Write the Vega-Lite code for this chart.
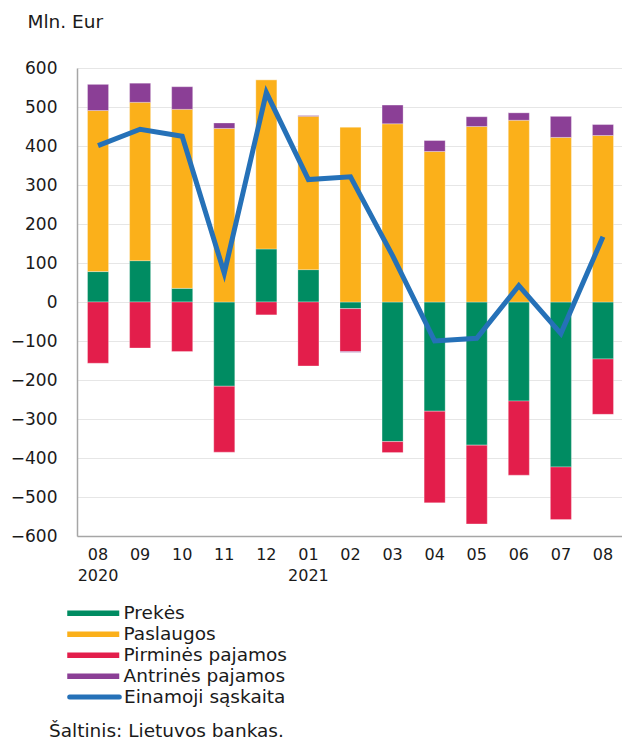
{
  "$schema": "https://vega.github.io/schema/vega-lite/v6.json",
  "width": 547,
  "height": 468,
  "padding": {"left": 10, "top": 12, "right": 0, "bottom": 0},
  "config": {
    "font": "DejaVu Sans",
    "view": {"stroke": null},
    "axis": {"labelFont": "DejaVu Sans", "titleFont": "DejaVu Sans", "labelColor": "#1a1a1a", "titleColor": "#1a1a1a"},
    "legend": {"labelFont": "DejaVu Sans", "labelColor": "#1a1a1a", "padding": 0, "labelLimit": 400}
  },
  "datasets": {
    "bars": [
      {"m": "08 2020", "s": "Prekės", "o": 1, "v": 78},
      {"m": "08 2020", "s": "Paslaugos", "o": 2, "v": 413},
      {"m": "08 2020", "s": "Pirminės pajamos", "o": 3, "v": -157},
      {"m": "08 2020", "s": "Antrinės pajamos", "o": 4, "v": 67},
      {"m": "09", "s": "Prekės", "o": 1, "v": 106},
      {"m": "09", "s": "Paslaugos", "o": 2, "v": 406},
      {"m": "09", "s": "Pirminės pajamos", "o": 3, "v": -118},
      {"m": "09", "s": "Antrinės pajamos", "o": 4, "v": 49},
      {"m": "10", "s": "Prekės", "o": 1, "v": 35},
      {"m": "10", "s": "Paslaugos", "o": 2, "v": 459},
      {"m": "10", "s": "Pirminės pajamos", "o": 3, "v": -127},
      {"m": "10", "s": "Antrinės pajamos", "o": 4, "v": 58},
      {"m": "11", "s": "Prekės", "o": 1, "v": -216},
      {"m": "11", "s": "Paslaugos", "o": 2, "v": 445},
      {"m": "11", "s": "Pirminės pajamos", "o": 3, "v": -169},
      {"m": "11", "s": "Antrinės pajamos", "o": 4, "v": 14},
      {"m": "12", "s": "Prekės", "o": 1, "v": 136},
      {"m": "12", "s": "Paslaugos", "o": 2, "v": 434},
      {"m": "12", "s": "Pirminės pajamos", "o": 3, "v": -33},
      {"m": "12", "s": "Antrinės pajamos", "o": 4, "v": 0},
      {"m": "01 2021", "s": "Prekės", "o": 1, "v": 83},
      {"m": "01 2021", "s": "Paslaugos", "o": 2, "v": 393},
      {"m": "01 2021", "s": "Pirminės pajamos", "o": 3, "v": -164},
      {"m": "01 2021", "s": "Antrinės pajamos", "o": 4, "v": 2},
      {"m": "02", "s": "Prekės", "o": 1, "v": -17},
      {"m": "02", "s": "Paslaugos", "o": 2, "v": 448},
      {"m": "02", "s": "Pirminės pajamos", "o": 3, "v": -110},
      {"m": "02", "s": "Antrinės pajamos", "o": 4, "v": -2},
      {"m": "03", "s": "Prekės", "o": 1, "v": -358},
      {"m": "03", "s": "Paslaugos", "o": 2, "v": 457},
      {"m": "03", "s": "Pirminės pajamos", "o": 3, "v": -28},
      {"m": "03", "s": "Antrinės pajamos", "o": 4, "v": 48},
      {"m": "04", "s": "Prekės", "o": 1, "v": -280},
      {"m": "04", "s": "Paslaugos", "o": 2, "v": 386},
      {"m": "04", "s": "Pirminės pajamos", "o": 3, "v": -235},
      {"m": "04", "s": "Antrinės pajamos", "o": 4, "v": 28},
      {"m": "05", "s": "Prekės", "o": 1, "v": -367},
      {"m": "05", "s": "Paslaugos", "o": 2, "v": 450},
      {"m": "05", "s": "Pirminės pajamos", "o": 3, "v": -202},
      {"m": "05", "s": "Antrinės pajamos", "o": 4, "v": 25},
      {"m": "06", "s": "Prekės", "o": 1, "v": -254},
      {"m": "06", "s": "Paslaugos", "o": 2, "v": 466},
      {"m": "06", "s": "Pirminės pajamos", "o": 3, "v": -190},
      {"m": "06", "s": "Antrinės pajamos", "o": 4, "v": 19},
      {"m": "07", "s": "Prekės", "o": 1, "v": -423},
      {"m": "07", "s": "Paslaugos", "o": 2, "v": 422},
      {"m": "07", "s": "Pirminės pajamos", "o": 3, "v": -135},
      {"m": "07", "s": "Antrinės pajamos", "o": 4, "v": 54},
      {"m": "08", "s": "Prekės", "o": 1, "v": -146},
      {"m": "08", "s": "Paslaugos", "o": 2, "v": 427},
      {"m": "08", "s": "Pirminės pajamos", "o": 3, "v": -142},
      {"m": "08", "s": "Antrinės pajamos", "o": 4, "v": 28}
    ],
    "line": [
      {"m": "08 2020", "s": "Einamoji sąskaita", "v": 401},
      {"m": "09", "s": "Einamoji sąskaita", "v": 443},
      {"m": "10", "s": "Einamoji sąskaita", "v": 425},
      {"m": "11", "s": "Einamoji sąskaita", "v": 74},
      {"m": "12", "s": "Einamoji sąskaita", "v": 537},
      {"m": "01 2021", "s": "Einamoji sąskaita", "v": 314},
      {"m": "02", "s": "Einamoji sąskaita", "v": 321},
      {"m": "03", "s": "Einamoji sąskaita", "v": 119},
      {"m": "04", "s": "Einamoji sąskaita", "v": -100},
      {"m": "05", "s": "Einamoji sąskaita", "v": -93},
      {"m": "06", "s": "Einamoji sąskaita", "v": 42},
      {"m": "07", "s": "Einamoji sąskaita", "v": -81},
      {"m": "08", "s": "Einamoji sąskaita", "v": 167}
    ]
  },
  "title": {
    "text": "Šaltinis: Lietuvos bankas.",
    "orient": "bottom",
    "anchor": "start",
    "frame": "group",
    "font": "DejaVu Sans",
    "fontSize": 18.5,
    "fontWeight": "normal",
    "color": "#1a1a1a",
    "dx": -28,
    "offset": 14
  },
  "encoding": {
    "x": {
      "field": "m",
      "type": "nominal",
      "scale": {
        "domain": ["08 2020", "09", "10", "11", "12", "01 2021", "02", "03", "04", "05", "06", "07", "08"],
        "paddingInner": 0.5,
        "paddingOuter": 0.25
      },
      "axis": {
        "title": null,
        "labelAngle": 0,
        "labelExpr": "split(datum.value, ' ')",
        "labelFontSize": 16,
        "labelLineHeight": 21,
        "labelPadding": 10,
        "labelBaseline": "top",
        "ticks": false,
        "domainColor": "#a6a6a6",
        "domainWidth": 1.5,
        "grid": false
      }
    },
    "y": {
      "field": "v",
      "type": "quantitative",
      "scale": {"domain": [-600, 600], "nice": false},
      "axis": {
        "title": "Mln. Eur",
        "titleAngle": 0,
        "titleAlign": "left",
        "titleBaseline": "alphabetic",
        "titleFontSize": 18.5,
        "titleFontWeight": "normal",
        "titleX": -50,
        "titleY": -41,
        "values": [-600, -500, -400, -300, -200, -100, 0, 100, 200, 300, 400, 500, 600],
        "labelFontSize": 17,
        "labelPadding": 20,
        "ticks": false,
        "domainColor": "#a6a6a6",
        "domainWidth": 1.5,
        "gridColor": "#e6e6e6",
        "gridWidth": 1.2
      }
    }
  },
  "layer": [
    {
      "data": {"name": "bars"},
      "mark": {"type": "bar", "stroke": "#ffffff", "strokeWidth": 0.5, "strokeOpacity": 0.6},
      "encoding": {
        "color": {
          "field": "s",
          "type": "nominal",
          "scale": {
            "domain": ["Prekės", "Paslaugos", "Pirminės pajamos", "Antrinės pajamos"],
            "range": ["#008c62", "#fbb01a", "#e31e4b", "#8b3f96"]
          },
          "legend": {
            "title": null,
            "orient": "none",
            "legendX": -11,
            "legendY": 536,
            "direction": "vertical",
            "symbolType": "M-3.25,-0.33H3.25V0.33H-3.25Z",
            "symbolSize": 256,
            "symbolOffset": 18,
            "symbolStrokeWidth": 0,
            "symbolOpacity": 1,
            "labelFontSize": 18.5,
            "labelOffset": 21,
            "rowPadding": 2
          }
        },
        "order": {"field": "o", "type": "quantitative"}
      }
    },
    {
      "data": {"name": "line"},
      "mark": {"type": "line", "strokeWidth": 5, "strokeJoin": "miter"},
      "encoding": {
        "stroke": {
          "field": "s",
          "type": "nominal",
          "scale": {"domain": ["Einamoji sąskaita"], "range": ["#2571b8"]},
          "legend": {
            "title": null,
            "orient": "none",
            "legendX": -11,
            "legendY": 618.5,
            "symbolType": "M-3.1,0H3.1",
            "symbolSize": 256,
            "symbolOffset": 18,
            "symbolStrokeWidth": 5,
            "symbolFillColor": "transparent",
            "labelFontSize": 18.5,
            "labelOffset": 19,
            "symbolOpacity": 1,
            "encode": {"symbols": {"update": {"strokeCap": {"value": "round"}}}}
          }
        }
      }
    }
  ]
}
